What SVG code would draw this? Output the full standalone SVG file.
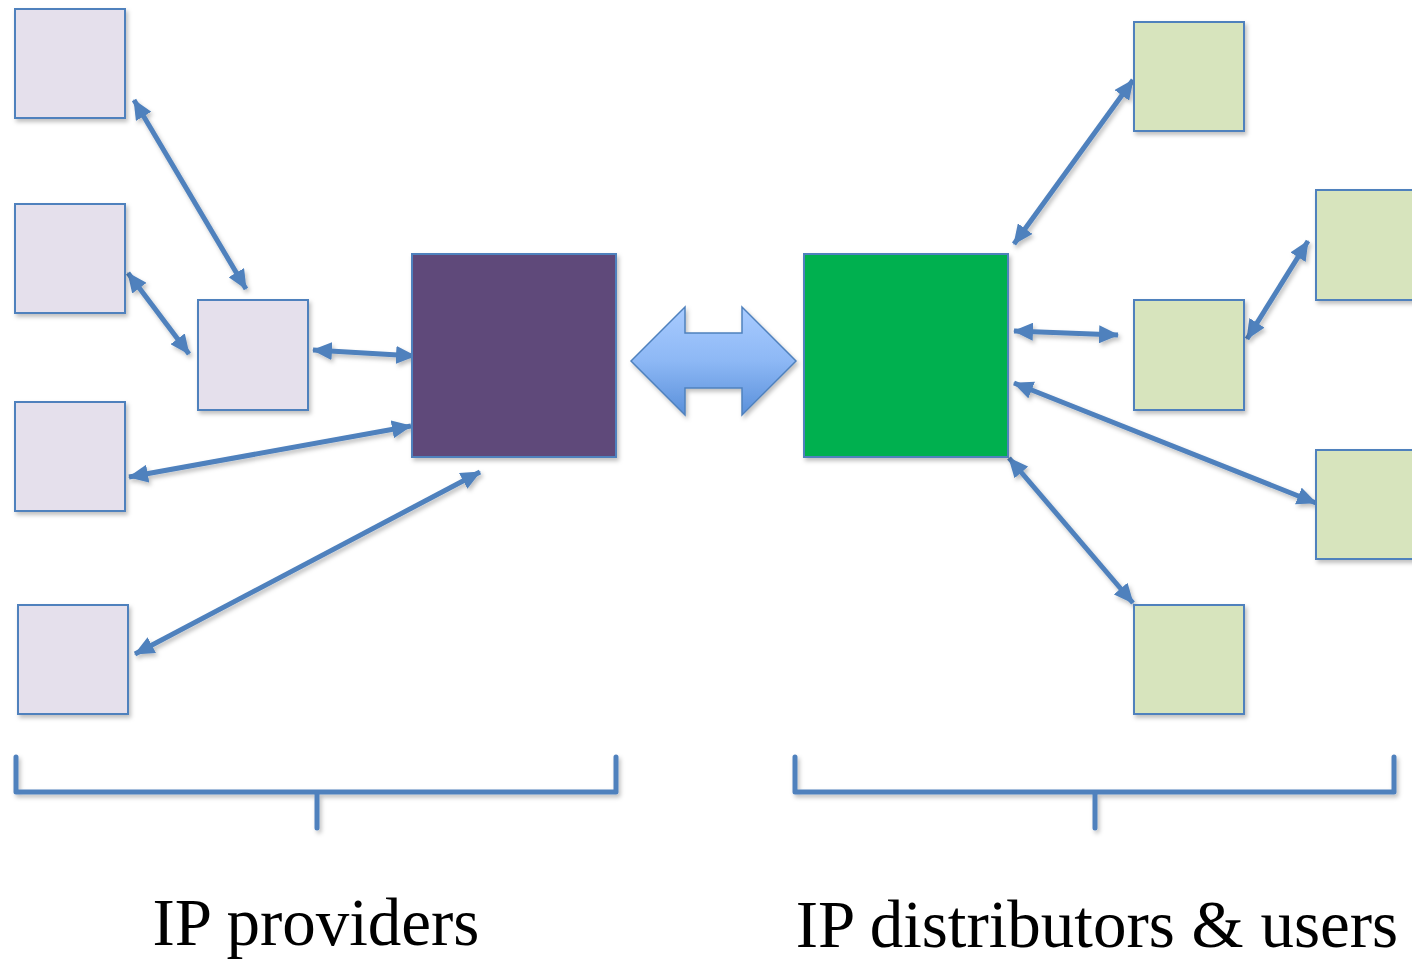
<svg xmlns="http://www.w3.org/2000/svg" width="1412" height="962" viewBox="0 0 1412 962">
  <style>
    .box { stroke: #4F81BD; stroke-width: 2; filter: url(#shadow); }
    .provider { fill: #E5E0EC; }
    .user { fill: #D7E4BD; }
    .link { stroke: #4F81BD; stroke-width: 5; fill: none; marker-start: url(#head); marker-end: url(#head); }
    .bracket { stroke: #4F81BD; stroke-width: 5; fill: none; stroke-linecap: round; stroke-linejoin: round; }
    .label { font-family: "Liberation Serif", "Times New Roman", serif; font-size: 67px; fill: #000; text-anchor: middle; }
  </style>
  <defs>
    <filter id="shadow" filterUnits="userSpaceOnUse" x="0" y="0" width="1412" height="962">
      <feDropShadow dx="2" dy="3" stdDeviation="2" flood-color="#000" flood-opacity="0.25"/>
    </filter>
    <marker id="head" viewBox="0 0 20 18" refX="19" refY="9" markerWidth="20" markerHeight="18" markerUnits="userSpaceOnUse" orient="auto-start-reverse">
      <path d="M0,0 L20,9 L0,18 z" fill="#4F81BD"/>
    </marker>
    <linearGradient id="blockFill" x1="0" y1="0" x2="0" y2="1">
      <stop offset="0" stop-color="#A8CBFF"/>
      <stop offset="0.5" stop-color="#8DB8F5"/>
      <stop offset="1" stop-color="#5A90DA"/>
    </linearGradient>
  </defs>
  <rect width="1412" height="962" fill="#FFFFFF"/>

  <!-- connectors -->
  <g id="connectors" filter="url(#shadow)">
    <line class="link" x1="134" y1="100" x2="246" y2="289"/>
    <line class="link" x1="128" y1="273" x2="189" y2="354"/>
    <line class="link" x1="313" y1="350" x2="415" y2="356"/>
    <line class="link" x1="129" y1="477" x2="411" y2="426"/>
    <line class="link" x1="135" y1="654" x2="480" y2="472"/>
    <line class="link" x1="1014" y1="244" x2="1133" y2="80"/>
    <line class="link" x1="1014" y1="331" x2="1118" y2="335"/>
    <line class="link" x1="1247" y1="339" x2="1308" y2="241"/>
    <line class="link" x1="1014" y1="383" x2="1316" y2="503"/>
    <line class="link" x1="1009" y1="458" x2="1133" y2="603"/>
  </g>

  <!-- IP providers -->
  <g id="provider-1"><rect class="box provider" x="15" y="9" width="110" height="109"/></g>
  <g id="provider-2"><rect class="box provider" x="15" y="204" width="110" height="109"/></g>
  <g id="provider-3"><rect class="box provider" x="198" y="300" width="110" height="110"/></g>
  <g id="provider-4"><rect class="box provider" x="15" y="402" width="110" height="109"/></g>
  <g id="provider-5"><rect class="box provider" x="18" y="605" width="110" height="109"/></g>
  <g id="provider-hub"><rect class="box" x="412" y="254" width="204" height="203" fill="#5F497A"/></g>

  <!-- exchange arrow -->
  <g id="exchange" filter="url(#shadow)">
    <polygon points="631,361 685,307 685,333 742,333 742,307 796,361 742,415 742,388 685,388 685,415" fill="url(#blockFill)" stroke="#4F81BD" stroke-width="1.5"/>
  </g>

  <!-- IP distributors & users -->
  <g id="user-hub"><rect class="box" x="804" y="254" width="204" height="203" fill="#00B050"/></g>
  <g id="user-1"><rect class="box user" x="1134" y="22" width="110" height="109"/></g>
  <g id="user-2"><rect class="box user" x="1316" y="190" width="110" height="110"/></g>
  <g id="user-3"><rect class="box user" x="1134" y="300" width="110" height="110"/></g>
  <g id="user-4"><rect class="box user" x="1316" y="450" width="110" height="109"/></g>
  <g id="user-5"><rect class="box user" x="1134" y="605" width="110" height="109"/></g>

  <!-- group brackets -->
  <g id="bracket-providers" filter="url(#shadow)">
    <path class="bracket" d="M16,757 V792 H616 V757 M317,792 V828"/>
  </g>
  <g id="bracket-users" filter="url(#shadow)">
    <path class="bracket" d="M795,757 V792 H1394 V757 M1095,792 V828"/>
  </g>

  <!-- labels -->
  <g id="label-providers"><text class="label" x="316" y="945">IP providers</text></g>
  <g id="label-users"><text class="label" x="1097" y="947">IP distributors &amp; users</text></g>
</svg>
